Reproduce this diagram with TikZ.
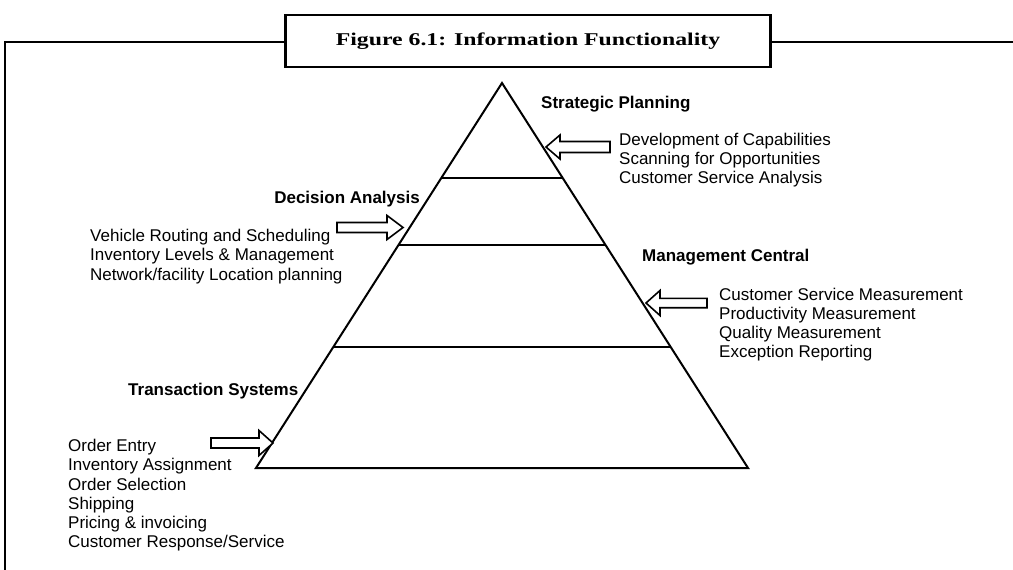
\documentclass[tikz,border=0pt]{standalone}
\usepackage{fontspec}
\usepackage{graphicx}
\setmainfont{Liberation Sans}
\newfontfamily\titlefont{Liberation Serif}
\usetikzlibrary{calc}
\begin{document}
\begin{tikzpicture}[x=1pt,y=-1pt,
  lvl/.style={line width=2pt},
  frameline/.style={line width=2.2pt},
  barrow/.style={draw,line width=1.6pt,fill=white,line join=miter},
  lbl/.style={anchor=base west,inner sep=0pt,font=\fontsize{17}{19}\selectfont},
  hd/.style={anchor=base west,inner sep=0pt,font=\bfseries\fontsize{17}{19}\selectfont},
  titlebox/.style={draw,line width=2.5pt,minimum width=485pt,minimum height=52pt,inner sep=0pt,fill=white}]
\useasboundingbox (0,0) rectangle (1013,570);

% frame and title
\node[titlebox] (title) at (528,41) {\scalebox{1.32}[1]{\titlefont\bfseries\fontsize{18}{20}\selectfont Figure 6.1: Information Functionality}};
\coordinate (fl) at (5,42);
\coordinate (fb) at (5,570);
\coordinate (fr) at (1013,42);
\draw[frameline] (fb) -- (fl) -- (fl -| title.west);
\draw[frameline] (fr -| title.east) -- (fr);

% pyramid
\coordinate (apex) at (502,83);
\coordinate (bl) at (256,468);
\coordinate (br) at (748,468);
\draw[lvl,line join=miter] (bl) -- (apex) -- (br) -- cycle;
\coordinate (l1a) at ($(apex)!0.2468!(bl)$);
\coordinate (l1b) at ($(apex)!0.2468!(br)$);
\coordinate (l2a) at ($(apex)!0.4208!(bl)$);
\coordinate (l2b) at ($(apex)!0.4208!(br)$);
\coordinate (l3a) at ($(apex)!0.6857!(bl)$);
\coordinate (l3b) at ($(apex)!0.6857!(br)$);
\draw[lvl] (l1a) -- (l1b);
\draw[lvl] (l2a) -- (l2b);
\draw[lvl] (l3a) -- (l3b);

% block arrows
\draw[barrow] (546,147) -- (560,135) -- (560,141.5) -- (610,141.5) -- (610,152.5) -- (560,152.5) -- (560,159) -- cycle;
\draw[barrow] (646,303) -- (660,290.5) -- (660,298.3) -- (707,298.3) -- (707,307.7) -- (660,307.7) -- (660,315.5) -- cycle;
\draw[barrow] (403,227.5) -- (387,215.5) -- (387,222.5) -- (337,222.5) -- (337,232.5) -- (387,232.5) -- (387,239.5) -- cycle;
\draw[barrow] (273,443) -- (259,430.5) -- (259,438) -- (211,438) -- (211,448) -- (259,448) -- (259,455.5) -- cycle;

% Strategic Planning
\node[hd] (sp) at (541,108) {Strategic Planning};
\node[lbl] (sp1) at (619,145) {Development of Capabilities};
\node[lbl] (sp2) at (619,164) {Scanning for Opportunities};
\node[lbl] (sp3) at (619,183) {Customer Service Analysis};

% Decision Analysis
\node[hd,anchor=base east] (da) at (420,203) {Decision Analysis};
\node[lbl] (da1) at (90,241) {Vehicle Routing and Scheduling};
\node[lbl] (da2) at (90,260.5) {Inventory Levels \& Management};
\node[lbl] (da3) at (90,280) {Network/facility Location planning};

% Management Central
\node[hd] (mc) at (642,261) {Management Central};
\node[lbl] (mc1) at (719,300) {Customer Service Measurement};
\node[lbl] (mc2) at (719,319) {Productivity Measurement};
\node[lbl] (mc3) at (719,338.3) {Quality Measurement};
\node[lbl] (mc4) at (719,357.3) {Exception Reporting};

% Transaction Systems
\node[hd] (ts) at (128,395) {Transaction Systems};
\node[lbl] (ts1) at (68,451.7) {Order Entry};
\node[lbl] (ts2) at (68,470.9) {Inventory Assignment};
\node[lbl] (ts3) at (68,490.1) {Order Selection};
\node[lbl] (ts4) at (68,509.3) {Shipping};
\node[lbl] (ts5) at (68,528.5) {Pricing \& invoicing};
\node[lbl] (ts6) at (68,547.7) {Customer Response/Service};
\end{tikzpicture}
\end{document}
